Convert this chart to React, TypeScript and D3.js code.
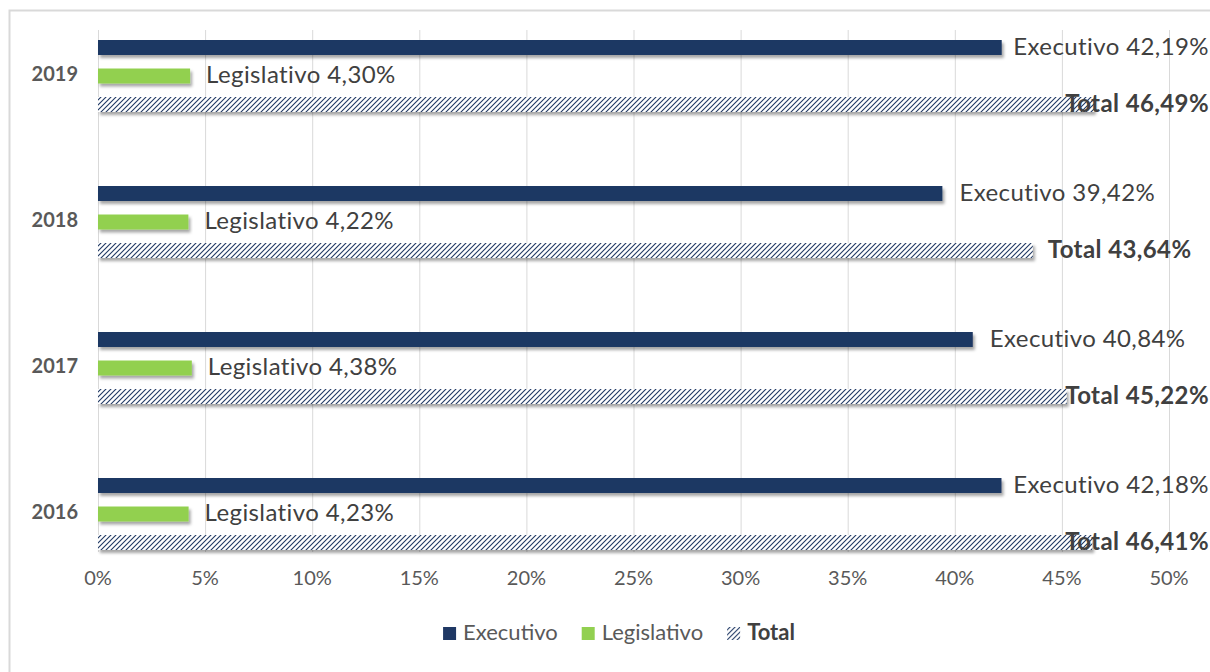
import { useEffect, useRef } from "react";
import * as d3 from "d3";

const years = ["2019", "2018", "2017", "2016"];
const series = ["Executivo", "Legislativo", "Total"];
const executivo = [42.19, 39.42, 40.84, 42.18];
const legislativo = [4.3, 4.22, 4.38, 4.23];
const total = [46.49, 43.64, 45.22, 46.41];
const ticks = [0, 5, 10, 15, 20, 25, 30, 35, 40, 45, 50];

const NAVY = "#1F3864";
const GREEN = "#92D050";
const FONT = "Lato, 'Open Sans', sans-serif";

const fmt = (v: number) => v.toFixed(2).replace(".", ",") + "%";

export default function App() {
  const svgRef = useRef<SVGSVGElement>(null);

  useEffect(() => {
    if (!svgRef.current) return;
    const svg = d3.select(svgRef.current);
    svg.selectAll("*").remove();

    const width = 1210;

    const defs = svg.append("defs");
    const pat = defs.append("pattern")
      .attr("id", "hatch")
      .attr("patternUnits", "userSpaceOnUse")
      .attr("width", 5)
      .attr("height", 5);
    pat.append("rect").attr("width", 5).attr("height", 5).attr("fill", "#fff");
    pat.append("path")
      .attr("d", "M-1,1 l2,-2 M0,5 l5,-5 M4,6 l2,-2")
      .attr("stroke", NAVY)
      .attr("stroke-width", 1.1);

    const shadow = defs.append("filter")
      .attr("id", "shadow")
      .attr("x", "-5%").attr("y", "-50%")
      .attr("width", "110%").attr("height", "220%");
    shadow.append("feDropShadow")
      .attr("dx", 2).attr("dy", 3)
      .attr("stdDeviation", 1.6)
      .attr("flood-color", "#000")
      .attr("flood-opacity", 0.35);

    // chart frame
    svg.append("rect")
      .attr("x", 9.5).attr("y", 10.5)
      .attr("width", width + 20).attr("height", 700)
      .attr("fill", "#fff")
      .attr("stroke", "#D9D9D9")
      .attr("stroke-width", 2);

    const x = d3.scaleLinear().domain([0, 50]).range([98, 1169]);
    const y0 = d3.scaleBand().domain(years).range([3, 587]);
    const half = y0.bandwidth() / 2;
    const y1 = d3.scaleBand().domain(series).range([half - 36, half + 36]).paddingInner(0.474);

    // gridlines
    svg.append("g")
      .selectAll("line")
      .data(ticks)
      .enter()
      .append("line")
      .attr("x1", (d) => x(d) + 0.5)
      .attr("x2", (d) => x(d) + 0.5)
      .attr("y1", 30)
      .attr("y2", 552)
      .attr("stroke", "#D9D9D9")
      .attr("stroke-width", 1);

    // tick labels
    svg.append("g")
      .selectAll("text")
      .data(ticks)
      .enter()
      .append("text")
      .attr("x", (d) => x(d))
      .attr("y", 580)
      .attr("text-anchor", "middle")
      .attr("dominant-baseline", "middle")
      .style("font-family", FONT)
      .style("font-size", "20px")
      .style("fill", "#595959")
      .text((d) => d + "%");

    const values: Record<string, number[]> = {
      Executivo: executivo,
      Legislativo: legislativo,
      Total: total,
    };
    const fills: Record<string, string> = {
      Executivo: NAVY,
      Legislativo: GREEN,
      Total: "url(#hatch)",
    };
    const gaps: Record<string, number> = { Executivo: 17, Legislativo: 16, Total: 15 };

    years.forEach((yr, i) => {
      const g = svg.append("g").attr("transform", `translate(0,${y0(yr)})`);

      g.append("text")
        .attr("x", 78)
        .attr("y", half)
        .attr("text-anchor", "end")
        .attr("dominant-baseline", "middle")
        .style("font-family", FONT)
        .style("font-size", "20px")
        .style("font-weight", "700")
        .style("fill", "#595959")
        .text(yr);

      series.forEach((s) => {
        const v = values[s][i];
        const by = y1(s)!;
        g.append("rect")
          .attr("x", x(0))
          .attr("y", by)
          .attr("width", x(v) - x(0))
          .attr("height", y1.bandwidth())
          .attr("fill", fills[s])
          .attr("filter", "url(#shadow)");
      });

      series.forEach((s) => {
        const v = values[s][i];
        const by = y1(s)!;
        const t = g.append("text")
          .attr("x", x(v) + gaps[s])
          .attr("y", by + y1.bandwidth() / 2 + 1)
          .attr("dominant-baseline", "middle")
          .style("font-family", FONT)
          .style("font-size", "24px")
          .style("letter-spacing", "0.4px")
          .style("font-weight", s === "Total" ? "700" : "400")
          .style("fill", "#404040")
          .text(`${s} ${fmt(v)}`);
        const w = (t.node() as SVGTextElement).getComputedTextLength();
        const maxX = 1209 - w;
        if (x(v) + gaps[s] > maxX) t.attr("x", maxX);
      });
    });

    // legend
    const legend = svg.append("g");
    const items = legend.selectAll("g")
      .data(series)
      .enter()
      .append("g");
    items.append("rect")
      .attr("x", 0)
      .attr("y", 627)
      .attr("width", 13)
      .attr("height", 13)
      .attr("fill", (d) => (d === "Total" ? "url(#hatch)" : fills[d]));
    items.append("text")
      .attr("x", 20)
      .attr("y", 634)
      .attr("dominant-baseline", "middle")
      .style("font-family", FONT)
      .style("font-size", "22px")
      .style("font-weight", (d) => (d === "Total" ? "700" : "400"))
      .style("fill", (d) => (d === "Total" ? "#404040" : "#595959"))
      .text((d) => d);

    const widths: number[] = [];
    items.select("text").each(function () {
      widths.push((this as SVGTextElement).getComputedTextLength() + 20);
    });
    const spacing = 24;
    const totalW = d3.sum(widths) + spacing * (widths.length - 1);
    let cx = 619 - totalW / 2;
    items.attr("transform", (_d, k) => {
      const tx = cx;
      cx += widths[k] + spacing;
      return `translate(${tx},0)`;
    });
  }, []);

  return (
    <svg
      ref={svgRef}
      width={1210}
      height={672}
      style={{ position: "absolute", left: 0, top: 0, background: "#fff" }}
    />
  );
}
